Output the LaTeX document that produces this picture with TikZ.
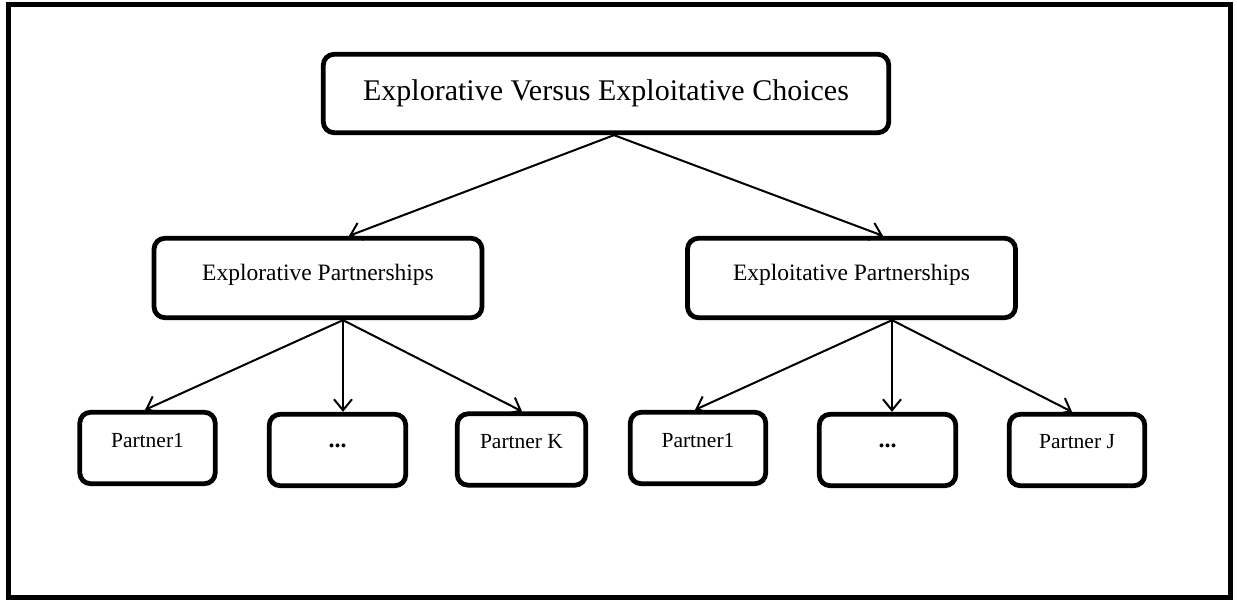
\documentclass[tikz,border=0pt]{standalone}
\usepackage{fontspec}
\setmainfont{Liberation Serif}
\usetikzlibrary{arrows.meta}
\begin{document}
\begin{tikzpicture}[x=1pt,y=-1pt]
\tikzset{
  box/.style={draw, line width=4.8pt, rounded corners=11pt, inner sep=0pt},
  bigbox/.style={box, font=\fontsize{30}{32}\selectfont, text height=21pt, text depth=6pt},
  midbox/.style={box, minimum width=328pt, minimum height=79.5pt,
                 font=\fontsize{23.5}{25}\selectfont, text height=17pt, text depth=11pt},
  smallbox/.style={box, minimum width=135.5pt, minimum height=71.5pt,
                 font=\fontsize{21.5}{23}\selectfont, text height=14pt, text depth=16pt},
  dotbox/.style={smallbox, minimum width=136.5pt, font=\fontsize{24}{26}\selectfont,
                 text height=14pt, text depth=19pt},
  link/.style={line width=2pt, -{Straight Barb[length=11pt,width=18pt]}},
}
\useasboundingbox (0,0) rectangle (1237,601);
% outer frame
\draw[line width=5pt] (8.5,4.5) rectangle (1230.5,597.5);

% top level
\node[bigbox, minimum width=565.5pt, minimum height=78.5pt] (top) at (606,93.5)
  {Explorative Versus Exploitative Choices};

% second level
\node[midbox] (midL) at (318,278) {Explorative Partnerships};
\node[midbox] (midR) at (851.5,278) {Exploitative Partnerships};

% partners
\node[smallbox] (pL1) at (147.5,448) {Partner1};
\node[dotbox] (dotsL) at (337.5,450) {\textbf{...}};
\node[smallbox, minimum width=128.5pt] (pK) at (521.5,449.5) {Partner K};
\node[smallbox] (pR1) at (698,448) {Partner1};
\node[dotbox] (dotsR) at (887.5,450) {\textbf{...}};
\node[smallbox] (pJ) at (1077,450) {Partner J};

% connectors
\coordinate (tS) at ([xshift=8pt]top.south);
\draw[link] (tS) -- ([xshift=31pt]midL.north);
\draw[link] (tS) -- ([xshift=31.5pt]midR.north);

\coordinate (lS) at ([xshift=25pt]midL.south);
\draw[link] (lS) -- ([xshift=-2.5pt]pL1.north);
\draw[link] (lS) -- (lS |- dotsL.north);
\draw[link] (lS) -- ([xshift=0.5pt]pK.north);

\coordinate (rS) at ([xshift=40.5pt]midR.south);
\draw[link] (rS) -- ([xshift=-3pt]pR1.north);
\draw[link] (rS) -- (rS |- dotsR.north);
\draw[link] (rS) -- ([xshift=-5pt]pJ.north);
\end{tikzpicture}
\end{document}
